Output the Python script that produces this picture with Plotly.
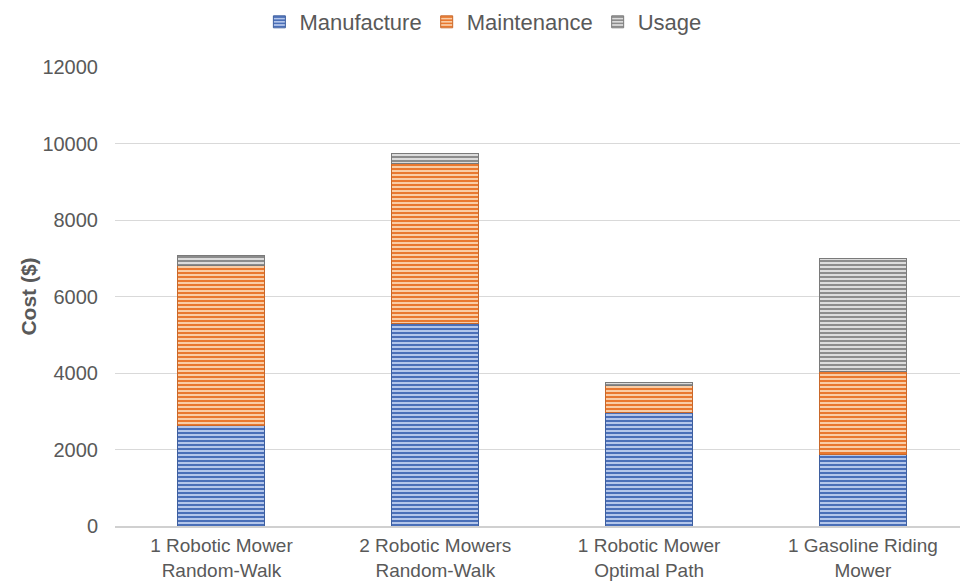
import plotly.graph_objects as go

categories = ["1 Robotic Mower<br>Random-Walk", "2 Robotic Mowers<br>Random-Walk",
              "1 Robotic Mower<br>Optimal Path", "1 Gasoline Riding<br>Mower"]
manufacture = [2640, 5300, 2980, 1860]
maintenance = [4180, 4190, 700, 2190]
usage = [240, 240, 60, 2950]

series = [
    ("Manufacture", manufacture, "#4a6fb8", "#b4c6ea", "#3e5f9f"),
    ("Maintenance", maintenance, "#e9782f", "#f9cda6", "#c9682a"),
    ("Usage", usage, "#8c8c8c", "#dcdcdc", "#7a7a7a"),
]

fig = go.Figure()
xs = list(range(len(categories)))
for name, vals, fg, bg, line in series:
    fig.add_trace(go.Bar(
        name=name, x=xs, y=vals, width=0.407,
        marker=dict(color=bg,
                    pattern=dict(shape="-", fgcolor=fg, bgcolor=bg, size=4, solidity=0.5, fillmode="replace"),
                    line=dict(color=line, width=1)),
    ))

font_color = "#595959"
fig.update_layout(
    barmode="stack",
    width=960, height=581,
    margin=dict(l=115, r=0, t=67, b=55),
    plot_bgcolor="white", paper_bgcolor="white",
    font=dict(family="Liberation Sans, Arial", size=20, color=font_color),
    legend=dict(orientation="h", xref="container", yref="container", x=0.503, y=1 - 22 / 581,
                xanchor="center", yanchor="middle", font=dict(size=22, color=font_color),
                itemwidth=30, traceorder="normal"),
    bargap=0.5,
)
fig.update_xaxes(
    tickmode="array", tickvals=xs, ticktext=categories,
    range=[-0.498, 3.454], showgrid=False, automargin=False,
    showline=True, linecolor="#d0d0d0", linewidth=2, ticks="", ticklabelstandoff=1,
    tickfont=dict(size=19, color=font_color),
)
fig.update_yaxes(
    range=[0, 12000], dtick=2000, tickformat="d", showgrid=True, gridcolor="#d9d9d9", gridwidth=1,
    zeroline=False, showline=False, ticks="", ticklabelstandoff=16, automargin=False,
    tickfont=dict(size=20, color=font_color),
    title=dict(text="<b>Cost ($)</b>", font=dict(size=21, color=font_color), standoff=0),
)
fig.write_html("out.html")
